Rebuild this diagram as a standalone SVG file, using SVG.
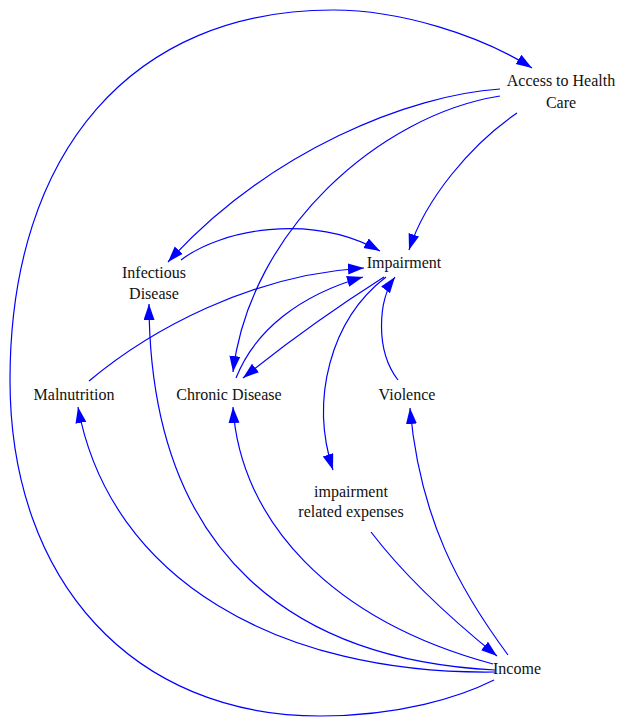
<svg xmlns="http://www.w3.org/2000/svg" width="621" height="719" viewBox="0 0 621 719">
<style>
.lbl{font-family:"Liberation Serif","Times New Roman",serif;font-size:16px;fill:#111;text-anchor:middle}
.e{fill:none;stroke:#0000ff;stroke-width:1.2;marker-end:url(#ah)}
</style>
<defs>
<marker id="ah" markerUnits="userSpaceOnUse" markerWidth="17" markerHeight="12" refX="16" refY="5.5" orient="auto">
<path d="M0,0 L16,5.5 L0,11 z" fill="#0000ff"/>
</marker>
</defs>
<rect width="621" height="719" fill="#fff"/>
<g id="connectors">
<path id="income-access" class="e" d="M494,680 C460,697 400,716 320,716 C134,716 10,582 10,380 C10,151 133,10 333,10 C400,10 480,35 532,68"/>
<path id="access-infectious" class="e" d="M500,89 C410,95 270,150 168,262"/>
<path id="access-chronic" class="e" d="M500,96 C380,115 250,230 233,372"/>
<path id="access-impairment" class="e" d="M517,113 C470,145 425,200 409,250"/>
<path id="infectious-impairment" class="e" d="M181,260 C220,230 310,212 380,251"/>
<path id="malnutrition-impairment" class="e" d="M89,381 C150,330 250,275 364,268"/>
<path id="chronic-impairment" class="e" d="M236,378 C255,330 300,295 363,277"/>
<path id="impairment-chronic" class="e" d="M384,277 C340,305 290,340 243,378"/>
<path id="impairment-expenses" class="e" d="M386,277 C330,320 310,400 333,470"/>
<path id="violence-impairment" class="e" d="M398,380 C375,350 378,300 395,277"/>
<path id="expenses-income" class="e" d="M371,532 C400,570 440,610 497,656"/>
<path id="income-violence" class="e" d="M508,655 C460,590 420,520 410,408"/>
<path id="income-chronic" class="e" d="M493,664 C330,620 240,520 233,407"/>
<path id="income-infectious" class="e" d="M495,670 C300,660 150,560 149,304"/>
<path id="income-malnutrition" class="e" d="M495,672 C280,675 110,580 78,407"/>
</g>
<g id="node-access"><text class="lbl" x="561" y="86">Access to Health</text><text class="lbl" x="561" y="108">Care</text></g>
<g id="node-infectious"><text class="lbl" x="154" y="278">Infectious</text><text class="lbl" x="154" y="299">Disease</text></g>
<g id="node-impairment"><text class="lbl" x="404" y="268">Impairment</text></g>
<g id="node-malnutrition"><text class="lbl" x="74" y="400">Malnutrition</text></g>
<g id="node-chronic"><text class="lbl" x="229" y="400">Chronic Disease</text></g>
<g id="node-violence"><text class="lbl" x="407" y="400">Violence</text></g>
<g id="node-expenses"><text class="lbl" x="351" y="497">impairment</text><text class="lbl" x="351" y="517">related expenses</text></g>
<g id="node-income"><text class="lbl" x="517" y="674">Income</text></g>
</svg>
